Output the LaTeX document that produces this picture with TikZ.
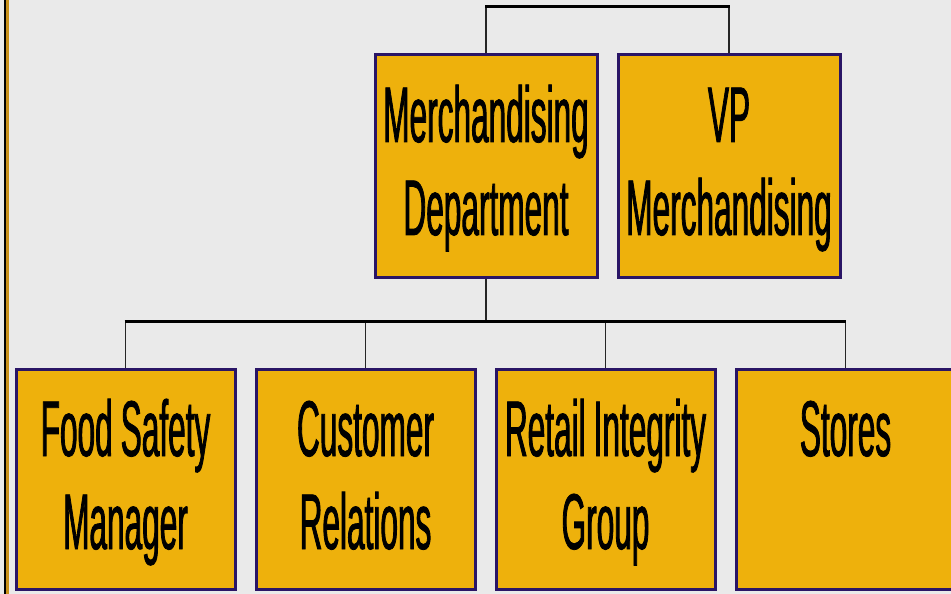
\documentclass[tikz,border=0pt]{standalone}
\usepackage{fontspec}
\setmainfont{Liberation Sans}[FakeStretch=0.40, FakeBold=1]
\usetikzlibrary{calc}
\definecolor{bgc}{HTML}{EAEAEA}
\definecolor{goldc}{HTML}{EEB10C}
\definecolor{navyc}{HTML}{2A1566}
\definecolor{stripc}{HTML}{C8901A}
\newcommand{\orgsp}{\spaceskip=8bp\relax}
\tikzset{
  orgbox/.style={draw=navyc, line width=3bp, fill=goldc, rectangle, inner sep=0pt,
    minimum width=219bp, minimum height=220bp, anchor=north west},
  topbox/.style={orgbox, minimum width=222bp, minimum height=222bp},
  orgtxt/.style={text width=240bp, align=center, inner sep=0pt, anchor=base,
    font=\fontsize{79bp}{93bp}\selectfont, execute at begin node=\orgsp},
  bus/.style={line width=3bp, black},
  drop/.style={line width=1.6bp, black!85},
}
\begin{document}
\begin{tikzpicture}[x=1bp,y=-1bp]
  \fill[bgc] (0,0) rectangle (951,594);
  \useasboundingbox (0,0) rectangle (951,594);
  % left edge strip
  \fill[stripc] (6,0) rectangle (9,594);
  \fill[black] (4,0) rectangle (6,594);
  % boxes
  \node[topbox] (md) at (373.5,53.5) {};
  \node[topbox] (vp) at (616.5,53.5) {};
  \node[orgbox] (fs) at (14.5,367.5) {};
  \node[orgbox] (cr) at (254.5,367.5) {};
  \node[orgbox] (rig) at (494.5,367.5) {};
  \node[orgbox] (st) at (734.5,367.5) {};
  % texts
  \node[orgtxt] (mdt) at ($(md.north)+(0,88.5)$) {Merchandising\\Department};
  \node[orgtxt] (vpt) at ($(vp.north)+(0,88.5)$) {VP\\Merchandising};
  \node[orgtxt] (fst) at ($(fs.north)+(0,88.5)$) {Food Safety\\Manager};
  \node[orgtxt] (crt) at ($(cr.north)+(0,88.5)$) {Customer\\Relations};
  \node[orgtxt] (rigt) at ($(rig.north)+(0,88.5)$) {Retail Integrity\\Group};
  \node[orgtxt] (stt) at ($(st.north)+(0,88.5)$) {Stores};
  % connectors
  \coordinate (topbus) at (0,7);
  \coordinate (lowbus) at (0,321);
  \draw[drop] (md.north) -- (md.north |- topbus);
  \draw[drop] (vp.north) -- (vp.north |- topbus);
  \draw[bus] ([xshift=-0.8bp]md.north |- topbus) -- ([xshift=0.8bp]vp.north |- topbus);
  \draw[drop] (md.south) -- (md.south |- lowbus);
  \draw[drop] (fs.north) -- (fs.north |- lowbus);
  \draw[drop] (cr.north) -- (cr.north |- lowbus);
  \draw[drop] (rig.north) -- (rig.north |- lowbus);
  \draw[drop] (st.north) -- (st.north |- lowbus);
  \draw[bus] ([xshift=-0.8bp]fs.north |- lowbus) -- ([xshift=0.8bp]st.north |- lowbus);
\end{tikzpicture}
\end{document}
